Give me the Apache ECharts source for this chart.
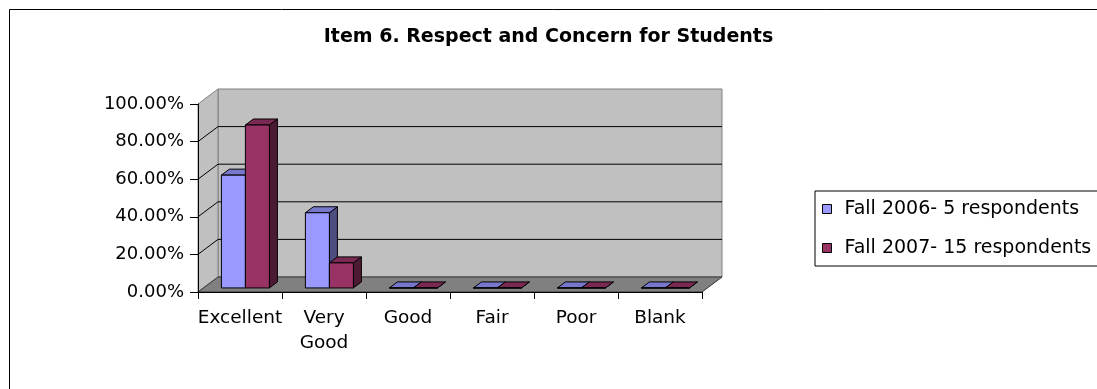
<!DOCTYPE html>
<html>
<head>
<meta charset="utf-8">
<script src="https://cdn.jsdelivr.net/npm/echarts@6/dist/echarts.min.js"></script>
<style>
  html, body { margin: 0; padding: 0; background: #fff; }
  #chart { width: 1097px; height: 389px; }
</style>
</head>
<body>
<div id="chart"></div>
<script>
// ---- data ----
const titleText = 'Item 6. Respect and Concern for Students';
const categories = ['Excellent', 'Very Good', 'Good', 'Fair', 'Poor', 'Blank'];
const seriesNames = ['Fall 2006- 5 respondents', 'Fall 2007- 15 respondents'];
const fall2006 = [0.60, 0.40, 0, 0, 0, 0];
const fall2007 = [0.8667, 0.1333, 0, 0, 0, 0];
const yTicks = [0, 0.2, 0.4, 0.6, 0.8, 1.0];

// ---- styling ----
const FONT = 'DejaVu Sans';
const DEPTH = [20, -15];          // full 3D depth offset of walls (px)
const FRONT_FRAC = 0.27;          // bar front plane position within depth
const BAR_DEPTH_FRAC = 0.4;       // bar depth relative to full depth
const BAR_FRAC = 24 / 84;         // each bar width relative to category band
const faceColors = [
  { front: '#9999FF', top: '#7777CC', side: '#4D4D80' },
  { front: '#993366', top: '#7A2952', side: '#4D1A33' }
];

function wallsRender(params, api) {
  const cs = params.coordSys;
  const x0 = cs.x, x1 = cs.x + cs.width, yT = cs.y, yB = cs.y + cs.height;
  const dx = DEPTH[0], dy = DEPTH[1];
  const children = [];
  children.push({ type: 'rect', shape: { x: x0 + dx, y: yT + dy, width: cs.width, height: cs.height },
    style: { fill: '#C0C0C0', stroke: '#808080', lineWidth: 1 } });
  children.push({ type: 'polygon', shape: { points: [[x0, yT], [x0 + dx, yT + dy], [x0 + dx, yB + dy], [x0, yB]] },
    style: { fill: '#C0C0C0', stroke: '#808080', lineWidth: 1 } });
  children.push({ type: 'polygon', shape: { points: [[x0, yB], [x1, yB], [x1 + dx, yB + dy], [x0 + dx, yB + dy]] },
    style: { fill: '#808080', stroke: '#333', lineWidth: 1 } });
  yTicks.forEach(function (t) {
    if (t <= yTicks[0] || t >= yTicks[yTicks.length - 1]) return;
    const y = api.coord([0, t])[1];
    children.push({ type: 'line', shape: { x1: x0 + dx, y1: y + dy, x2: x1 + dx, y2: y + dy },
      style: { stroke: '#000', lineWidth: 1 } });
    children.push({ type: 'line', shape: { x1: x0, y1: y, x2: x0 + dx, y2: y + dy },
      style: { stroke: '#000', lineWidth: 1 } });
  });
  return { type: 'group', children: children };
}

function makeBarRender(si) {
  return function (params, api) {
    const cat = api.value(0), v = api.value(1);
    const top = api.coord([cat, v]);
    const base = api.coord([cat, 0]);
    const band = api.size([1, 0])[0];
    const bw = band * BAR_FRAC;
    const ox = DEPTH[0] * FRONT_FRAC, oy = DEPTH[1] * FRONT_FRAC;
    const bx = DEPTH[0] * BAR_DEPTH_FRAC, by = DEPTH[1] * BAR_DEPTH_FRAC;
    const left = base[0] - bw + si * bw + ox;
    const right = left + bw;
    const yb = base[1] + oy, yt = top[1] + oy;
    const c = faceColors[si];
    const st = function (fill) { return { fill: fill, stroke: '#000', lineWidth: 1 }; };
    return {
      type: 'group',
      children: [
        { type: 'polygon', shape: { points: [[right, yt], [right + bx, yt + by], [right + bx, yb + by], [right, yb]] }, style: st(c.side) },
        { type: 'polygon', shape: { points: [[left, yt], [right, yt], [right + bx, yt + by], [left + bx, yt + by]] }, style: st(c.top) },
        { type: 'rect', shape: { x: left, y: yt, width: bw, height: yb - yt }, style: st(c.front) }
      ]
    };
  };
}

const chart = echarts.init(document.getElementById('chart'), null, { renderer: 'canvas' });
chart.setOption({
  backgroundColor: '#fff',
  animation: false,
  textStyle: { fontFamily: FONT },
  title: {
    text: titleText, left: 'center', top: 26, padding: 0,
    textStyle: { fontFamily: FONT, fontSize: 19, fontWeight: 'bold', color: '#000', lineHeight: 22 }
  },
  graphic: [{
    type: 'rect', left: 7, top: 7, silent: true,
    shape: { x: 0.5, y: 0.5, width: 1200, height: 500 },
    style: { fill: 'none', stroke: '#000', lineWidth: 1 }
  }],
  legend: {
    orient: 'vertical', left: 815, top: 191,
    padding: [8, 10, 8, 7], itemGap: 19,
    borderColor: '#000', borderWidth: 1,
    icon: 'rect', itemWidth: 9, itemHeight: 9,
    itemStyle: { borderColor: '#000', borderWidth: 1 },
    textStyle: { fontFamily: FONT, fontSize: 19, color: '#000', lineHeight: 20, padding: [0, 0, 0, 8] },
    data: seriesNames
  },
  grid: { left: 198, top: 104, width: 504, height: 188 },
  xAxis: {
    type: 'category', data: categories, z: 10,
    axisLine: { lineStyle: { color: '#000', width: 1 } },
    axisTick: { show: true, length: 7, lineStyle: { color: '#000' } },
    axisLabel: { color: '#000', fontFamily: FONT, fontSize: 18.5, margin: 14, lineHeight: 25, interval: 0,
      formatter: function (v) { return v.replace(' ', '\n'); } },
    splitLine: { show: false }
  },
  yAxis: {
    type: 'value', min: yTicks[0], max: yTicks[yTicks.length - 1], interval: 0.2, z: 10,
    axisLine: { show: true, lineStyle: { color: '#000', width: 1 } },
    axisTick: { show: true, length: 8, lineStyle: { color: '#000' } },
    axisLabel: { color: '#000', fontFamily: FONT, fontSize: 18, margin: 14,
      formatter: function (v) { return (v * 100).toFixed(2) + '%'; } },
    splitLine: { show: false }
  },
  series: [
    { type: 'custom', name: '__walls', silent: true, z: 1, renderItem: wallsRender, data: [[0, 0]] },
    { type: 'custom', name: seriesNames[0], z: 2, itemStyle: { color: faceColors[0].front },
      renderItem: makeBarRender(0), data: fall2006.map(function (v, i) { return [i, v]; }) },
    { type: 'custom', name: seriesNames[1], z: 3, itemStyle: { color: faceColors[1].front },
      renderItem: makeBarRender(1), data: fall2007.map(function (v, i) { return [i, v]; }) }
  ]
});
</script>
</body>
</html>
